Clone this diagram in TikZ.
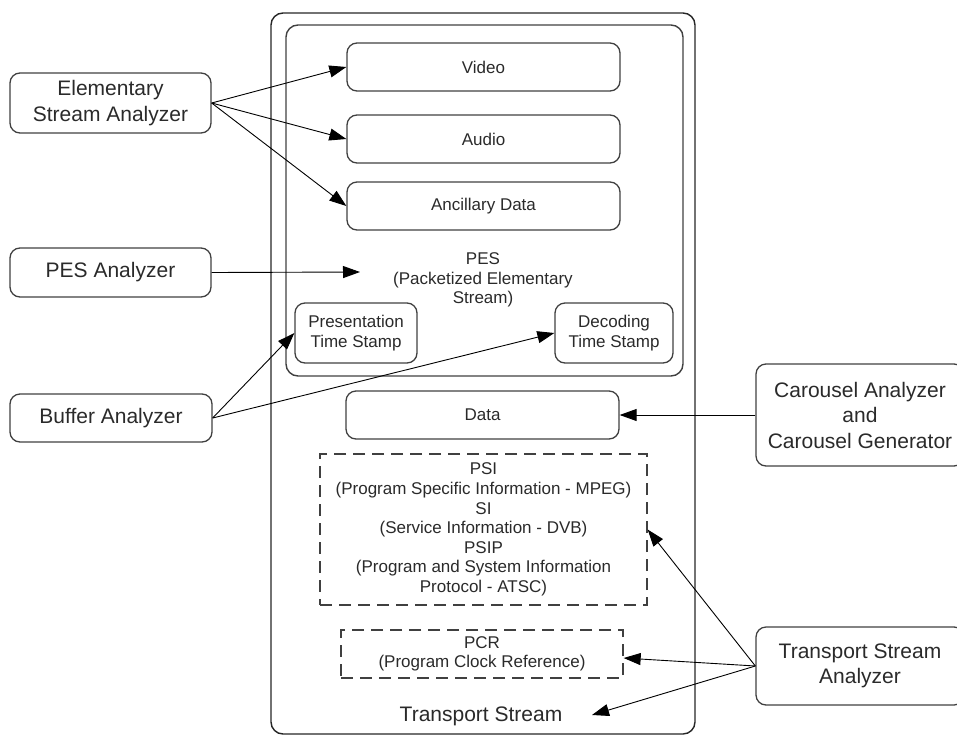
\documentclass[tikz,border=0pt]{standalone}
\usepackage{fontspec}
\setmainfont{Liberation Sans}
\usetikzlibrary{arrows.meta}
\definecolor{txt}{HTML}{2A2A2A}
\definecolor{ln}{HTML}{404040}
\begin{document}
\begin{tikzpicture}[x=1pt,y=-1pt,
  bigtext/.style={font=\fontsize{21}{25.5}\selectfont,text=txt,align=center},
  smalltext/.style={font=\fontsize{17}{19.6}\selectfont,text=txt,align=center},
  rbox/.style={draw=ln,line width=1.3pt,rounded corners=10pt,inner sep=0pt,minimum width=#1},
  dbox/.style={draw=ln,line width=1.3pt,dash pattern=on 12pt off 7pt,inner sep=0pt,minimum width=#1},
  arr/.style={draw=black,line width=0.9pt,-{Triangle[length=17pt,width=12pt]}}]
\clip (0,0) rectangle (957,736);
\useasboundingbox (0,0) rectangle (957,736);
% containers
\draw[draw=black!85,line width=1.4pt,rounded corners=12pt] (271,13) rectangle (695,734);
\draw[draw=ln,line width=1.4pt,rounded corners=12pt] (286,25) rectangle (683,376);
% inner boxes
\node[rbox=273pt,minimum height=48pt,smalltext] (video) at (483.5,67) {Video};
\node[rbox=273pt,minimum height=48pt,smalltext] (audio) at (483.5,139) {Audio};
\node[rbox=273pt,minimum height=48pt,smalltext] (anc) at (483.5,206) {Ancillary Data};
\node[smalltext] (pes) at (483,280) {PES\\(Packetized Elementary\\Stream)};
\node[rbox=122pt,minimum height=60pt,smalltext] (pts) at (356,333) {Presentation\\Time Stamp};
\node[rbox=118pt,minimum height=60pt,smalltext] (dts) at (614,333) {Decoding\\Time Stamp};
\node[rbox=273pt,minimum height=48pt,smalltext] (data) at (482.5,415) {Data};
\node[dbox=327pt,minimum height=151pt,smalltext] (psi) at (483.5,529.5) {PSI\\(Program Specific Information - MPEG)\\SI\\(Service Information - DVB)\\PSIP\\(Program and System Information\\Protocol - ATSC)};
\node[dbox=282pt,minimum height=48pt,smalltext] (pcr) at (482,654) {PCR\\(Program Clock Reference)};
\node[bigtext] (ts) at (481,716) {Transport Stream};
\coordinate (tsend) at (592,715);
\coordinate (pesend) at (360,272);
% analyzers
\node[rbox=201pt,minimum height=60pt,bigtext] (esa) at (110.5,103) {Elementary\\Stream Analyzer};
\node[rbox=201pt,minimum height=49pt,bigtext] (pesa) at (110.5,272.5) {PES Analyzer};
\node[rbox=202pt,minimum height=48pt,bigtext] (ba) at (111,418) {Buffer Analyzer};
\node[rbox=208pt,minimum height=102pt,bigtext] (car) at (860,415) {Carousel Analyzer\\and\\Carousel Generator};
\node[rbox=208pt,minimum height=78pt,bigtext] (tsa) at (860,666) {Transport Stream\\Analyzer};
% connectors
\draw[arr] (esa.east) -- (video.west);
\draw[arr] (esa.east) -- (audio.west);
\draw[arr] (esa.east) -- (anc.west);
\draw[arr] (pesa.east) -- (pesend);
\draw[arr] (ba.east) -- (pts.west);
\draw[arr] (ba.east) -- (dts.west);
\draw[arr] (car.west) -- (data.east);
\draw[arr] (tsa.west) -- (psi.east);
\draw[arr] (tsa.west) -- ([yshift=-4pt]pcr.east);
\draw[arr] (tsa.west) -- (tsend);
\end{tikzpicture}
\end{document}
